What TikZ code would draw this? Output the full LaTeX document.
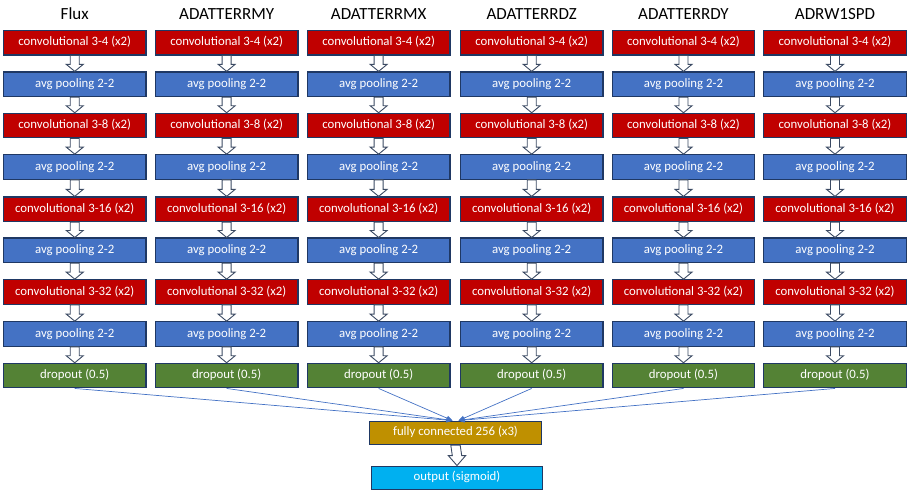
\documentclass[tikz,border=0pt]{standalone}
\usepackage{fontspec}
\setmainfont{Carlito}
\usetikzlibrary{calc,arrows.meta}
\definecolor{cred}{HTML}{C00000}
\definecolor{cblue}{HTML}{4472C4}
\definecolor{cgreen}{HTML}{548235}
\definecolor{cgold}{HTML}{BF9000}
\definecolor{ccyan}{HTML}{00B0F0}
\definecolor{cborder}{HTML}{1F3864}
\definecolor{carrow}{HTML}{3B4A63}
\newcommand{\blkarrow}[4]{%
  \draw[blk] ($(#1.south)+(-#3,0)$) -- ($(#1.south)+(#3,0)$)
    -- ($(#2.north)+(#3,-#4)$) -- ($(#2.north)+(#3+4,-#4)$) -- (#2.north)
    -- ($(#2.north)+(-#3-4,-#4)$) -- ($(#2.north)+(-#3,-#4)$) -- cycle;}
\begin{document}
\begin{tikzpicture}[x=1pt,y=-1pt,
  box/.style={draw=cborder,line width=1.2pt,minimum width=142.5pt,minimum height=24.5pt,inner sep=0pt,text=white,font=\fontsize{12.8}{14}\selectfont,text height=8pt,text depth=2pt},
  conv/.style={box,fill=cred},
  pool/.style={box,fill=cblue},
  drop/.style={box,fill=cgreen},
  title/.style={font=\fontsize{17}{20}\selectfont,anchor=base,inner sep=0pt},
  blk/.style={draw=carrow,fill=white,line width=0.9pt,line join=miter},
  link/.style={draw=cblue,line width=0.7pt,-{Triangle[length=6pt,width=5pt]}}]
\useasboundingbox (0,0) rectangle (913,495);
\foreach \c/\x/\t in {1/74.75/Flux,2/226.65/ADATTERRMY,3/378.65/ADATTERRMX,4/531.7/ADATTERRDZ,5/683.5/ADATTERRDY,6/835/ADRW1SPD}{
  \node[title] (t\c) at (\x,20) {\t};
  \foreach \r/\y/\s/\txt in {1/42.7/conv/convolutional 3-4 (x2),2/84.2/pool/avg pooling 2-2,3/125.6/conv/convolutional 3-8 (x2),4/167.0/pool/avg pooling 2-2,5/209.2/conv/convolutional 3-16 (x2),6/250.3/pool/avg pooling 2-2,7/292.0/conv/convolutional 3-32 (x2),8/334.0/pool/avg pooling 2-2,9/375.6/drop/dropout (0.5)}{
    \node[\s] (r\c-\r) at (\x,\y) {\txt};
  }
  \foreach \r [evaluate=\r as \n using int(\r+1)] in {1,...,8}{
    \blkarrow{r\c-\r}{r\c-\n}{4.5}{7}
  }
}
\node[box,fill=cgold,minimum width=171.5pt,minimum height=23.5pt] (fc) at (455.5,432.9) {fully connected 256 (x3)};
\node[box,fill=ccyan,minimum width=171.5pt,minimum height=23.5pt] (out) at (457,477.9) {output (sigmoid)};
\blkarrow{fc}{out}{4.7}{10}
\foreach \c in {1,2,3}{\draw[link] (r\c-9.south) -- ($(fc.north)+(-3,0)$);}
\foreach \c in {4,5,6}{\draw[link] (r\c-9.south) -- ($(fc.north)+(3,0)$);}
\end{tikzpicture}
\end{document}
